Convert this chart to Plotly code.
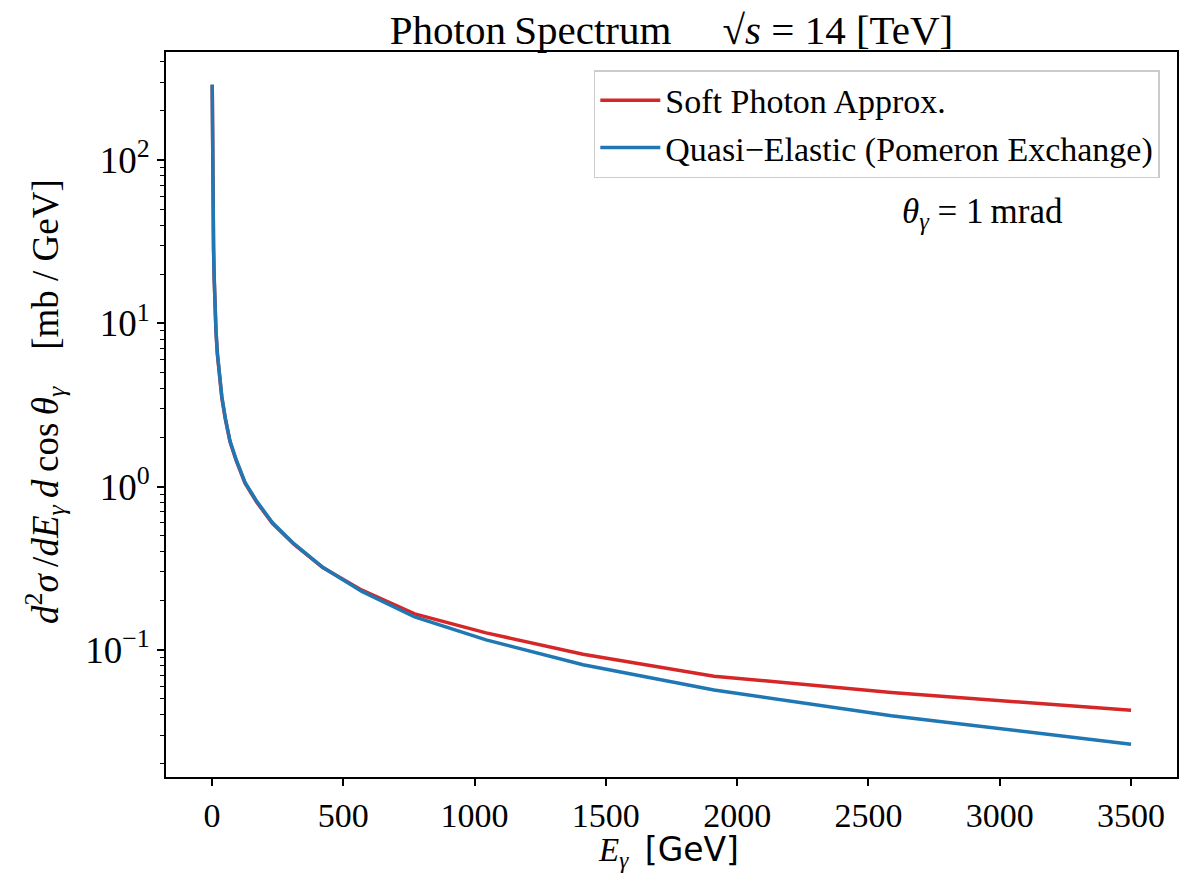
import plotly.graph_objects as go

# Photon energy grid [GeV]
E_gamma = [1.0, 1.35, 1.83, 2.47, 3.35, 4.53, 6.13, 8.29, 11.2, 15.2, 20.5, 27.8,
           37.6, 50.8, 68.8, 93.0, 126, 170, 230, 312, 422, 571, 772, 1044,
           1413, 1912, 2587, 3500]

# d^2 sigma / dE dcos(theta) [mb/GeV]
soft_photon = [288, 196, 134, 92, 62, 42, 28.5, 19.3, 13.0, 9.0, 6.5, 4.8,
               3.5, 2.6, 1.88, 1.43, 1.05, 0.805, 0.595, 0.443, 0.319, 0.232,
               0.166, 0.127, 0.094, 0.069, 0.0547, 0.0427]
quasi_elastic = [290, 198, 135, 93, 63, 42.5, 28.8, 19.5, 13.2, 9.1, 6.6, 4.86,
                 3.55, 2.64, 1.9, 1.45, 1.06, 0.815, 0.602, 0.447, 0.32, 0.228,
                 0.159, 0.115, 0.081, 0.0568, 0.0395, 0.0264]

y_tickvals = [0.1, 1, 10, 100]
y_ticktext = ["10<sup>\u22121</sup>", "10<sup>0</sup>", "10<sup>1</sup>", "10<sup>2</sup>"]
x_tickvals = [0, 500, 1000, 1500, 2000, 2500, 3000, 3500]

minor_vals = [m * 10 ** k for k in (-2, -1, 0, 1, 2) for m in range(2, 10)]

SERIF = "Liberation Serif"
RED = "#d62728"
BLUE = "#1f77b4"

fig = go.Figure()
fig.add_trace(go.Scatter(x=E_gamma, y=soft_photon, mode="lines",
                         name="Soft Photon Approx.",
                         line=dict(color=RED, width=3.5)))
fig.add_trace(go.Scatter(x=E_gamma, y=quasi_elastic, mode="lines",
                         name="Quasi\u2212Elastic (Pomeron Exchange)",
                         line=dict(color=BLUE, width=3.5)))

fig.update_layout(
    width=1191, height=875,
    margin=dict(l=166, r=14, t=52, b=98),
    paper_bgcolor="white", plot_bgcolor="white",
    font=dict(family=SERIF, color="black"),
    title=dict(text="Photon\u2009Spectrum\u00a0\u00a0\u00a0\u00a0\u00a0<i>\u221As</i> = 14 [TeV]",
               x=0.5, xref="paper", xanchor="center",
               y=1 - 30 / 875, yref="container", yanchor="middle",
               font=dict(family=SERIF, size=41, color="black")),
    showlegend=True,
    legend=dict(x=0.983, y=0.975, xanchor="right", yanchor="top",
                bgcolor="rgba(255,255,255,0.8)", bordercolor="#cccccc", borderwidth=1.5,
                font=dict(family=SERIF, size=34, color="black"),
                itemwidth=60, tracegroupgap=0),
)

fig.update_xaxes(
    range=[-175, 3675], tickvals=x_tickvals,
    showgrid=False, zeroline=False,
    showline=True, linecolor="black", linewidth=1.8, mirror=True,
    ticks="outside", ticklen=7, tickwidth=1.5, tickcolor="black",
    tickfont=dict(family=SERIF, size=34, color="black"),
)
fig.update_yaxes(
    type="log", range=[-1.779, 2.662],
    tickvals=y_tickvals, ticktext=y_ticktext,
    showgrid=False, zeroline=False,
    showline=True, linecolor="black", linewidth=1.8, mirror=True,
    ticks="outside", ticklen=7, tickwidth=1.5, tickcolor="black",
    tickfont=dict(family=SERIF, size=37, color="black"),
    minor=dict(tickvals=minor_vals, ticks="outside", ticklen=4, tickwidth=1.1,
               tickcolor="black", showgrid=False),
)

fig.add_annotation(
    text="<i>d</i><sup>2</sup><i>\u03c3</i>\u2009/<i>dE</i><sub><i>\u03b3</i></sub>\u2009<i>d</i>\u2009cos\u2009<i>\u03b8</i><sub><i>\u03b3</i></sub>\u00a0\u00a0\u00a0\u00a0[mb / GeV]",
    xref="paper", yref="paper", x=(45 - 166) / 1011, y=1 - (402 - 52) / 725,
    xanchor="center", yanchor="middle", textangle=-90, showarrow=False,
    font=dict(family=SERIF, size=37, color="black"),
)
fig.add_annotation(
    text="<i>E</i><sub><i>\u03b3</i></sub>\u00a0\u00a0<span style=\"font-family:'DejaVu Sans'\">[GeV]</span>",
    xref="paper", yref="paper", x=(668 - 166) / 1011, y=-(851 - 777) / 725,
    xanchor="center", yanchor="middle", showarrow=False,
    font=dict(family=SERIF, size=33, color="black"),
)
fig.add_annotation(
    text="<i>\u03b8</i><sub><i>\u03b3</i></sub> = 1\u2009mrad",
    xref="paper", yref="paper", x=(982 - 166) / 1011, y=1 - (213 - 52) / 725,
    xanchor="center", yanchor="middle", showarrow=False,
    font=dict(family=SERIF, size=35, color="black"),
)

fig.write_html("out.html")
